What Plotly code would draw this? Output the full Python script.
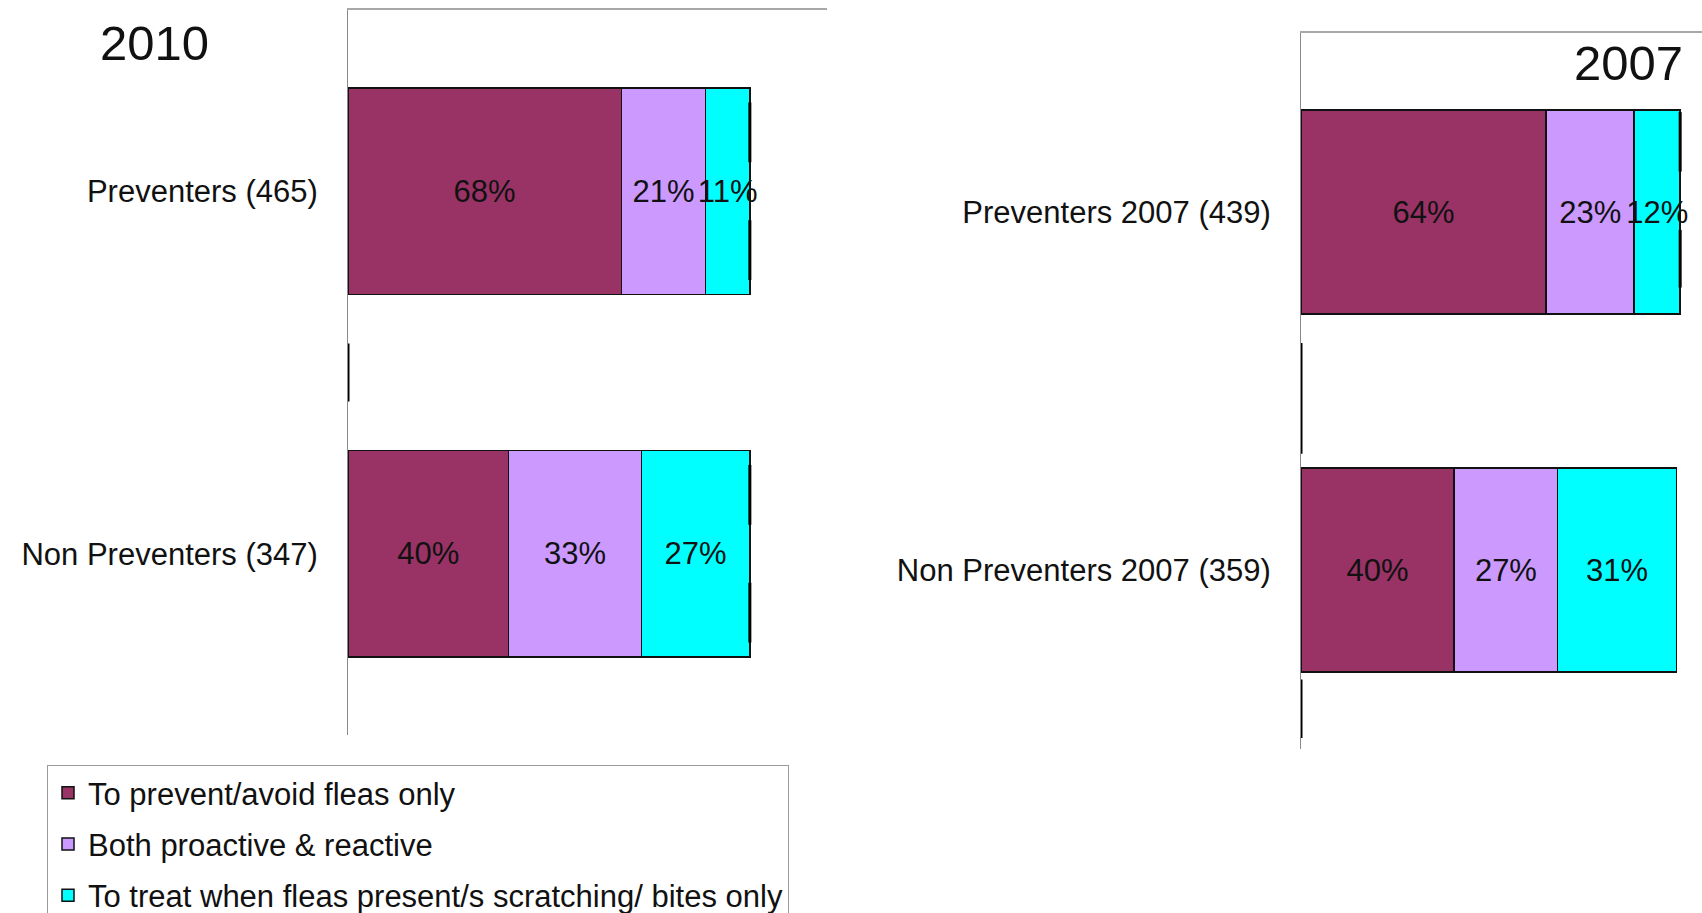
import plotly.graph_objects as go

# ---------------- data ----------------
categories_2010 = ["Preventers (465)", "Non Preventers (347)"]
categories_2007 = ["Preventers 2007 (439)", "Non Preventers 2007 (359)"]
series_names = [
    "To prevent/avoid fleas only",
    "Both proactive & reactive",
    "To treat when fleas present/s scratching/ bites only",
]
prevent_only_2010 = [68, 40]
both_2010 = [21, 33]
treat_only_2010 = [11, 27]
prevent_only_2007 = [64, 40]
both_2007 = [23, 27]
treat_only_2007 = [12, 31]

colors = ["#993366", "#CC99FF", "#00FFFF"]
FONT = "Liberation Sans, Arial, sans-serif"
W, H = 1702, 913

fig = go.Figure()

panels = [
    (categories_2010, [prevent_only_2010, both_2010, treat_only_2010], "x", "y", True),
    (categories_2007, [prevent_only_2007, both_2007, treat_only_2007], "x2", "y2", False),
]
for cats, series, xa, ya, show in panels:
    for name, vals, col in zip(series_names, series, colors):
        fig.add_trace(go.Bar(
            y=cats, x=vals, orientation="h", name=name,
            marker=dict(color=col, line=dict(color="#111111", width=1.5)),
            text=[f"{v}%" for v in vals], textposition="inside", textangle=0,
            insidetextanchor="middle", constraintext="none",
            textfont=dict(family=FONT, size=31, color="#111111"),
            xaxis=xa, yaxis=ya, legendgroup=name, showlegend=show,
            hoverinfo="skip",
        ))

def px_x(v):
    return v / W

def px_y(v):
    return 1 - v / H

common_y = dict(type="category", showline=True, linecolor="#8a8a8a", linewidth=1,
                ticks="", showgrid=False, zeroline=False,
                tickfont=dict(family=FONT, size=31, color="#111111"),
                ticklabelstandoff=23)
common_x = dict(side="top", showline=True, linecolor="#a8a8a8", linewidth=1.5,
                showticklabels=False, ticks="", showgrid=False, zeroline=False)

fig.update_layout(
    xaxis=dict(domain=[px_x(348), px_x(827)], range=[0, 119.2], anchor="y", **common_x),
    yaxis=dict(domain=[px_y(735), px_y(10)], range=[1.5, -0.5], anchor="x",
               categoryarray=categories_2010, categoryorder="array", **common_y),
    xaxis2=dict(domain=[px_x(1301), 1.0], range=[0, 104.7], anchor="y2", **common_x),
    yaxis2=dict(domain=[px_y(749), px_y(33)], range=[1.5, -0.5], anchor="x2",
                categoryarray=categories_2007, categoryorder="array", **common_y),
)

# decorative thick black segments seen in the original rendering
segs = []
for c in (0, 1):
    segs += [("x", "y", 100, c - 0.245, c - 0.08), ("x", "y", 100, c + 0.08, c + 0.245)]
segs += [("x", "y", 0, 0.42, 0.58)]
segs += [("x2", "y2", 99, -0.279, -0.113), ("x2", "y2", 99, 0.05, 0.211)]
segs += [("x2", "y2", 0, 0.366, 0.675), ("x2", "y2", 0, 1.306, 1.469)]
shapes = []
for xr, yr, xv, y0, y1 in segs:
    shapes.append(dict(type="line", xref=xr, yref=yr, x0=xv, x1=xv, y0=y0, y1=y1,
                       line=dict(color="#000000", width=3), layer="above"))

fig.update_layout(
    width=W, height=H,
    margin=dict(l=0, r=0, t=0, b=0, autoexpand=False),
    paper_bgcolor="white", plot_bgcolor="white",
    barmode="stack", bargap=0.43,
    uniformtext=dict(mode="show", minsize=31),
    font=dict(family=FONT, color="#111111"),
    shapes=shapes,
    annotations=[
        dict(text="2010", xref="paper", yref="paper", x=px_x(98), y=px_y(43),
             xanchor="left", yanchor="middle", showarrow=False,
             font=dict(family=FONT, size=49, color="#111111")),
        dict(text="2007", xref="paper", yref="paper", x=px_x(1685), y=px_y(63),
             xanchor="right", yanchor="middle", showarrow=False,
             font=dict(family=FONT, size=49, color="#111111")),
    ],
    legend=dict(x=px_x(47), y=px_y(765), xanchor="left", yanchor="top",
                bgcolor="white", bordercolor="#9a9a9a", borderwidth=1,
                font=dict(family=FONT, size=31, color="#111111"),
                tracegroupgap=8, traceorder="grouped", maxheight=400),
)

fig.write_html("out.html", config={"displayModeBar": False},
               post_script="document.body.style.margin='0';document.body.style.overflow='hidden';")
